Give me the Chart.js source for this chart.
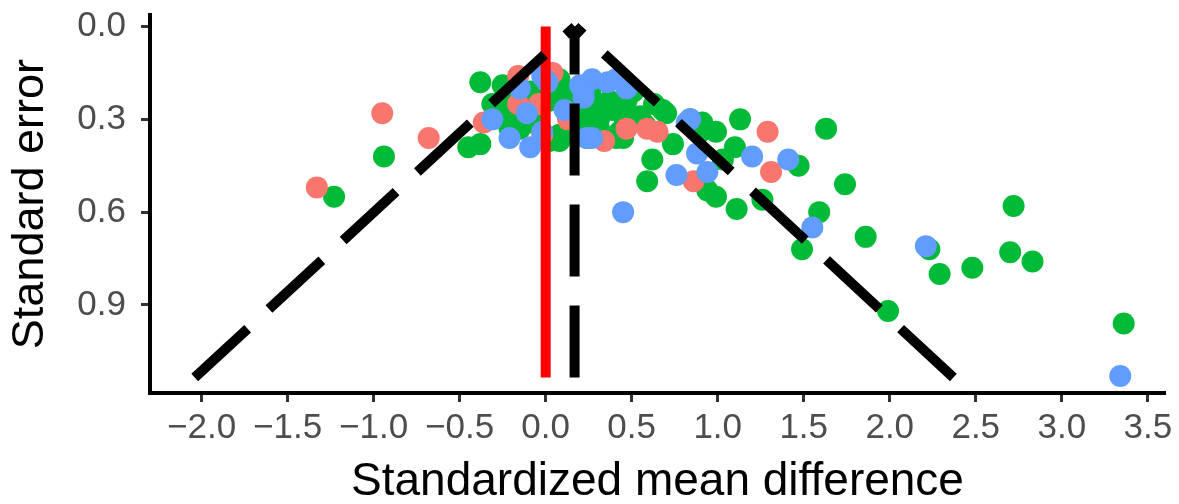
<!DOCTYPE html>
<html>
<head>
<meta charset="utf-8">
<script src="https://cdn.jsdelivr.net/npm/chart.js@4/dist/chart.umd.min.js"></script>
<style>
  html, body { margin: 0; padding: 0; background: #fff; }
  #wrap { width: 1179px; height: 504px; }
</style>
</head>
<body>
<div id="wrap"><canvas id="funnel"></canvas></div>
<script>
// studies, grouped by colour: standardized mean difference / standard error
const redSmd  = [-1.33, -0.95, -0.68, -0.36, -0.16, 0.04, -0.04, 0.34, 0.47, 0.59, 0.65, 0.86, 1.29, 1.31, 0.13,
                 -0.02, -0.16]
const redSe   = [0.52, 0.28, 0.36, 0.31, 0.25, 0.15, 0.25, 0.37, 0.33, 0.33, 0.34, 0.50, 0.34, 0.47, 0.30,
                 0.35, 0.16]

const blueSmd = [-0.31, -0.21, -0.09, -0.02, 0.01, 0.27, 0.36, 0.41, 0.22, 0.27, 0.82, 0.88, 0.76, 0.94, 1.20,
                 1.41, 1.55, 0.45, 2.21, 3.34, -0.15, 0.11, 0.20, 0.47, -0.11, -0.02, 0.24, 0.22, 0.84]
const blueSe  = [0.30, 0.36, 0.39, 0.34, 0.18, 0.17, 0.18, 0.17, 0.23, 0.36, 0.31, 0.41, 0.48, 0.47, 0.42,
                 0.43, 0.65, 0.60, 0.71, 1.13, 0.20, 0.27, 0.19, 0.20, 0.28, 0.16, 0.36, 0.21, 0.30]

const greenSmd = [-0.38, -0.25, -0.45, -0.38, -0.94, -1.23, -0.15, -0.27, -0.21, -0.09, -0.06, 0.08, 0.11, 0.14,
                  0.20, 0.26, 0.31, 0.37, 0.43, 0.45, 0.47, 0.39, 0.30, 0.51, 0.70, 0.74, 0.91, 0.99, 0.62,
                  0.59, 0.94, 0.99, 1.11, 1.13, 1.10, 1.03, 1.47, 1.63, 1.74, 1.26, 1.59, 1.86, 1.49, 2.72,
                  2.23, 2.29, 2.48, 2.70, 2.83, 1.99, 3.36, 0.02, 0.26, 0.55, 0.63, 0.31, 0.17, -0.09, -0.18,
                  0.08, 0.46, 0.58, 0.84, 0.11, 0.17, 0.22, 0.08, 0.24, 0.02, -0.31, -0.08, -0.21, 0.31,
                  0.41, 0.68, 0.86, 0.90]
const greenSe  = [0.18, 0.19, 0.39, 0.38, 0.42, 0.55, 0.33, 0.27, 0.24, 0.21, 0.29, 0.17, 0.22, 0.34,
                  0.29, 0.25, 0.30, 0.24, 0.34, 0.36, 0.24, 0.27, 0.27, 0.21, 0.28, 0.38, 0.31, 0.34, 0.43,
                  0.50, 0.53, 0.55, 0.59, 0.30, 0.39, 0.43, 0.45, 0.33, 0.51, 0.56, 0.60, 0.68, 0.72, 0.58,
                  0.72, 0.80, 0.78, 0.73, 0.76, 0.92, 0.96, 0.24, 0.21, 0.29, 0.25, 0.35, 0.32, 0.30, 0.30,
                  0.37, 0.30, 0.32, 0.30, 0.24, 0.21, 0.30, 0.35, 0.36, 0.37, 0.25, 0.31, 0.33, 0.33,
                  0.36, 0.27, 0.31, 0.34]

// funnel outline (each side runs from its foot up to the apex) and reference lines
const leftSmd   = [-2.04, 0.17]
const rightSmd  = [2.37, 0.17]
const sideSe    = [1.135, 0]
const pooledSmd = [0.168, 0.168]
const pooledSe  = [1.135, 0]
const nullSmd   = [0, 0]
const nullSe    = [1.135, 0]

const xTicks = [-2, -1.5, -1, -0.5, 0, 0.5, 1, 1.5, 2, 2.5, 3, 3.5]
const yTicks = [0, 0.3, 0.6, 0.9]

const pts = (xs, ys) => xs.map((x, i) => ({ x, y: ys[i] }))
const fmt = v => (v < 0 ? '\u2212' : '') + Math.abs(v).toFixed(1)

const dotStyle = color => ({
    type: 'scatter',
    backgroundColor: color,
    borderWidth: 0,
    pointRadius: 11,
    pointHoverRadius: 11
})

const lineStyle = (color, dash) => ({
    type: 'line',
    showLine: true,
    borderColor: color,
    borderWidth: 10,
    borderDash: dash,
    borderCapStyle: 'butt',
    pointRadius: 0,
    fill: false,
    order: 0
})

new Chart(document.getElementById('funnel'), {
    type: 'scatter',
    data: {
        datasets: [
            { ...dotStyle('#00BA38'), data: pts(greenSmd, greenSe), order: 4 },
            { ...dotStyle('#F8766D'), data: pts(redSmd, redSe), order: 3 },
            { ...dotStyle('#619CFF'), data: pts(blueSmd, blueSe), order: 2 },
            { ...lineStyle('#000', [72, 29]), data: pts(leftSmd, sideSe) },
            { ...lineStyle('#000', [72, 29]), data: pts(rightSmd, sideSe) },
            { ...lineStyle('#FF0000', []), data: pts(nullSmd, nullSe) },
            { ...lineStyle('#000', [72, 29]), data: pts(pooledSmd, pooledSe) }
        ]
    },
    options: {
        responsive: true,
        maintainAspectRatio: false,
        animation: false,
        layout: { padding: { top: 0, right: 14, left: 0, bottom: 0 } },
        plugins: { legend: { display: false }, tooltip: { enabled: false } },
        scales: {
            x: {
                type: 'linear',
                min: -2.30,
                max: 3.60,
                afterBuildTicks: s => { s.ticks = xTicks.map(value => ({ value })) },
                afterFit: s => { s.height = 111 },
                border: { display: true, color: '#000', width: 4 },
                grid: { drawOnChartArea: false, drawTicks: true, tickLength: 9, tickWidth: 3, tickColor: '#333' },
                ticks: {
                    autoSkip: false,
                    maxRotation: 0,
                    padding: 5,
                    color: '#4D4D4D',
                    font: { family: 'Liberation Sans', size: 35 },
                    callback: v => fmt(v)
                },
                title: {
                    display: true,
                    text: 'Standardized mean difference',
                    color: '#000',
                    font: { family: 'Liberation Sans', size: 46 },
                    padding: { top: 4, bottom: -6 }
                }
            },
            y: {
                type: 'linear',
                reverse: true,
                min: -0.037,
                max: 1.185,
                afterBuildTicks: s => { s.ticks = yTicks.map(value => ({ value })) },
                afterFit: s => { s.width = 150 },
                border: { display: true, color: '#000', width: 4 },
                grid: { drawOnChartArea: false, drawTicks: true, tickLength: 9, tickWidth: 3, tickColor: '#333' },
                ticks: {
                    autoSkip: false,
                    padding: 15,
                    color: '#4D4D4D',
                    font: { family: 'Liberation Sans', size: 35, lineHeight: 0.01 },
                    callback: v => fmt(v)
                },
                title: {
                    display: true,
                    text: 'Standard error',
                    color: '#000',
                    font: { family: 'Liberation Sans', size: 45 },
                    padding: { top: 4, bottom: 0 }
                }
            }
        }
    }
})
</script>
</body>
</html>
